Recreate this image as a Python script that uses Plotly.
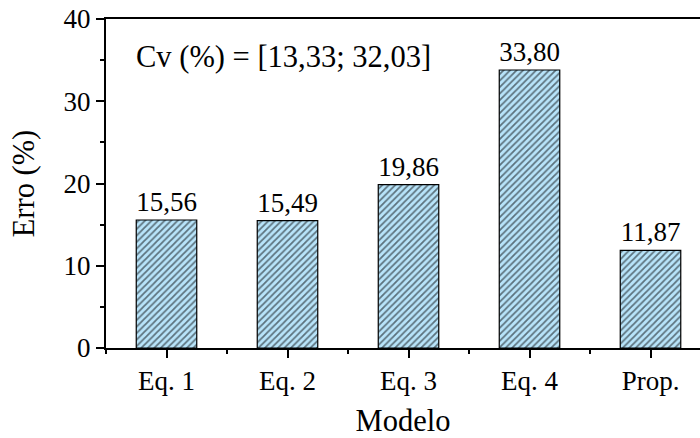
import plotly.graph_objects as go

categories = ["Eq. 1", "Eq. 2", "Eq. 3", "Eq. 4", "Prop."]
erro = [15.56, 15.49, 19.86, 33.80, 11.87]
y_ticks = [0, 10, 20, 30, 40]
cv_text = "Cv (%) = [13,33; 32,03]"

FONT = "Liberation Serif"
FILL = "#b8e4fa"
xpos = list(range(len(categories)))

fig = go.Figure()
fig.add_trace(go.Bar(
    x=xpos, y=erro, width=0.5,
    marker=dict(color=FILL,
                line=dict(color="black", width=1.2),
                pattern=dict(shape="/", fgcolor="black", bgcolor=FILL,
                             size=4.6, solidity=0.38, fillmode="overlay")),
    texttemplate="%{y:.2f}", textposition="outside", constraintext="none",
    cliponaxis=False,
    textfont=dict(family=FONT, size=27, color="black"),
))

fig.update_layout(
    width=700, height=438,
    margin=dict(l=106, r=0, t=19, b=90, autoexpand=False),
    plot_bgcolor="white", paper_bgcolor="white",
    separators=",.",
    showlegend=False,
    font=dict(family=FONT, color="black", size=27),
    annotations=[dict(text=cv_text, xref="paper", yref="paper", x=0.047, y=0.885,
                      xanchor="left", yanchor="middle", showarrow=False,
                      font=dict(family=FONT, size=30.5, color="black"))],
)
fig.update_xaxes(
    range=[-0.5, 4.409], tickvals=xpos, ticktext=categories,
    automargin=False,
    showline=True, linecolor="black", linewidth=2, mirror=True,
    ticks="outside", ticklen=8, tickwidth=1.5, tickcolor="black",
    minor=dict(ticks="outside", tick0=0.5, dtick=1, ticklen=4, tickwidth=1.5, tickcolor="black"),
    showgrid=False, zeroline=False,
    tickfont=dict(family=FONT, size=27),
    title=dict(text="Modelo", font=dict(family=FONT, size=30.5), standoff=15),
)
fig.update_yaxes(
    range=[0, 40], tickvals=y_ticks,
    automargin=False,
    showline=True, linecolor="black", linewidth=2, mirror=False,
    ticks="outside", ticklen=8, tickwidth=1.5, tickcolor="black",
    minor=dict(ticks="outside", dtick=5, ticklen=4, tickwidth=1.5, tickcolor="black"),
    showgrid=False, zeroline=False,
    tickfont=dict(family=FONT, size=27),
    title=dict(text="Erro (%)", font=dict(family=FONT, size=30.5), standoff=20),
)
fig.write_html("out.html", config={"displayModeBar": False},
               post_script="document.body.style.margin='0';document.body.style.overflow='hidden';")
